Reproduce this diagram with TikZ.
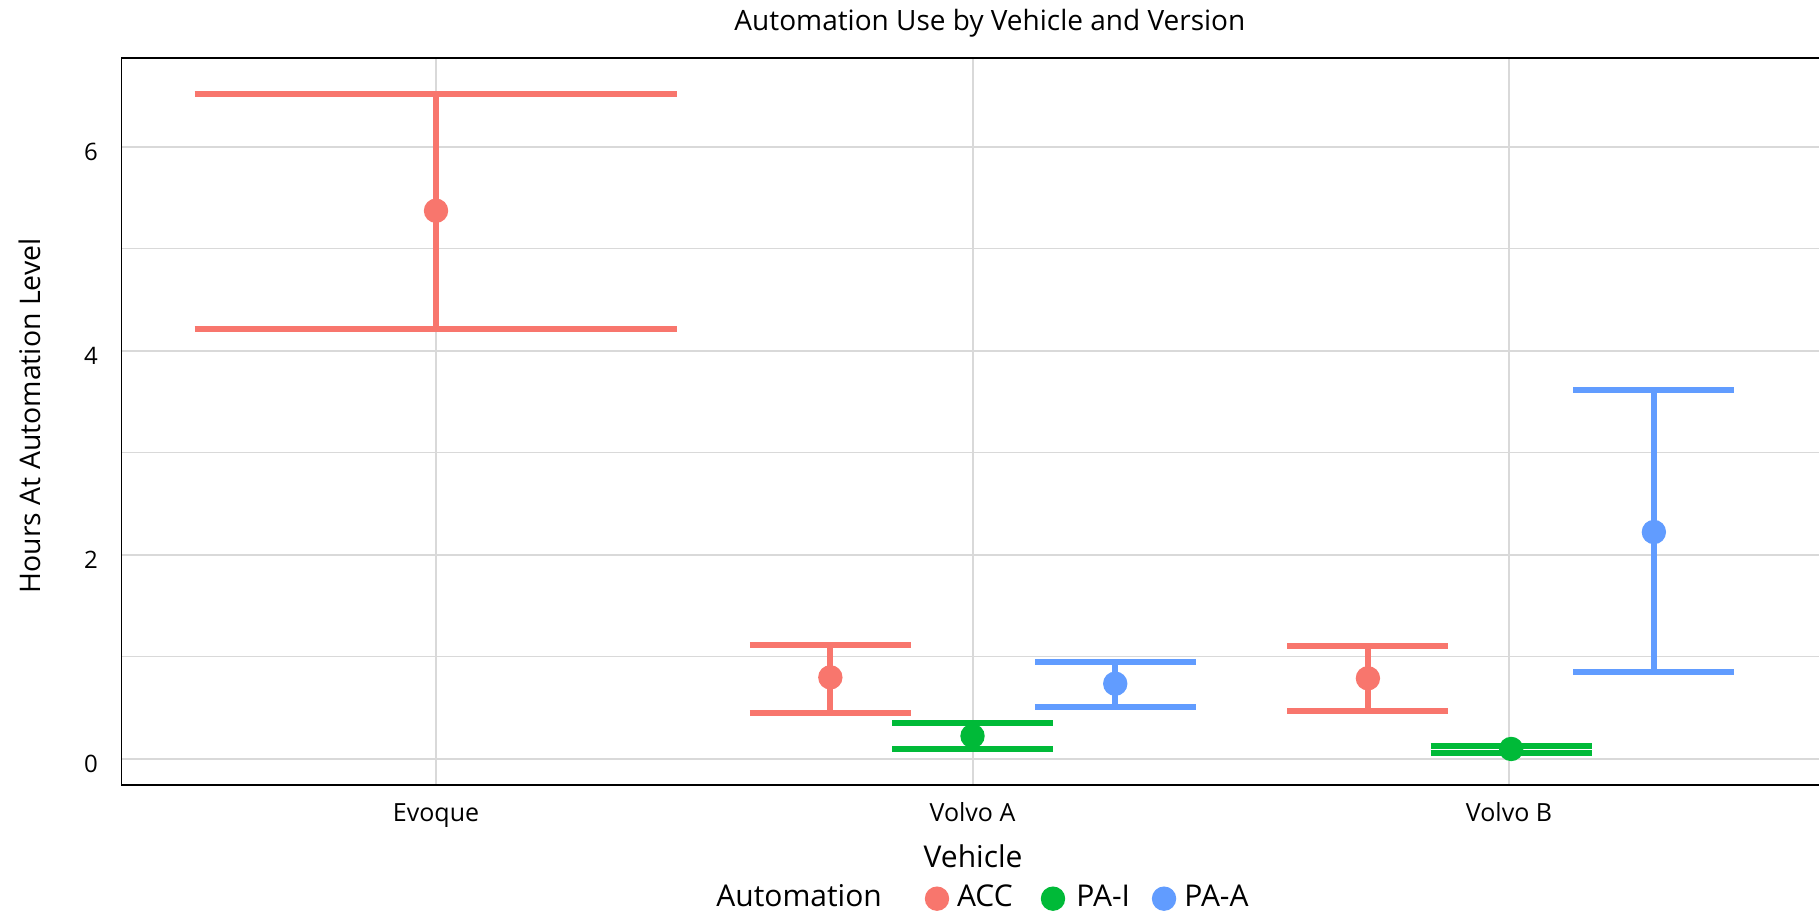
\documentclass[tikz,border=0pt]{standalone}
\usepackage{fontspec}
\setmainfont{Open Sans}
\usepackage{xcolor}
\usepackage{tikz}
\definecolor{accred}{HTML}{F8766D}
\definecolor{paigreen}{HTML}{00BA38}
\definecolor{paablue}{HTML}{619CFF}
\definecolor{gridgray}{HTML}{D9D9D9}

\begin{document}
\begin{tikzpicture}[x=268.25pt, y=51pt,
    bar/.style={line width=3pt},
    dot/.style={circle, inner sep=0pt, minimum size=12.2pt},
    majorgrid/.style={gridgray, line width=1pt},
    minorgrid/.style={gridgray, line width=0.5pt},
    xtick/.style={anchor=base, font=\fontsize{12.5}{15}\selectfont},
    ytick/.style={anchor=east, yshift=-2.5pt, font=\fontsize{12}{14}\selectfont},
    axtitle/.style={font=\fontsize{15}{18}\selectfont}]
    \useasboundingbox (0.1873,-1.5098) rectangle (3.5778,7.441);

    % grid
    \foreach \v in {1,3,5}
        \draw[minorgrid] (0.4138,\v) -- (3.5778,\v);
    \foreach \v in {0,2,4,6}
        \draw[majorgrid] (0.4138,\v) -- (3.5778,\v);
    \foreach \c in {1,2,3}
        \draw[majorgrid] (\c,-0.255) -- (\c,6.873);
    \draw[line width=0.8pt] (3.5778,6.873) -- (0.4138,6.873) -- (0.4138,-0.255) -- (3.5778,-0.255);

    % error bars: x / low / mean / high / half width / colour
    \foreach \x/\lo/\m/\hi/\w/\col in {
            1/4.22/5.375/6.52/0.45/accred,
            1.735/0.451/0.80/1.118/0.15/accred,
            2.0/0.100/0.225/0.356/0.15/paigreen,
            2.266/0.510/0.738/0.954/0.15/paablue,
            2.737/0.474/0.791/1.108/0.15/accred,
            3.004/0.056/0.098/0.130/0.15/paigreen,
            3.270/0.856/2.225/3.618/0.15/paablue} {
        \draw[bar, \col] ({\x-\w},\hi) -- ({\x+\w},\hi);
        \draw[bar, \col] ({\x-\w},\lo) -- ({\x+\w},\lo);
        \draw[bar, \col] (\x,\lo) -- (\x,\hi);
        \fill[\col] (\x,\m) circle[radius=6.1pt];
    }

    % axes text
    \foreach \v in {0,2,4,6}
        \node[ytick] (ylab\v) at (0.383,\v) {\v};
    \node[xtick] (evoque) at (1,-0.613) {Evoque};
    \node[xtick] (volvoa) at (2,-0.613) {Volvo A};
    \node[xtick] (volvob) at (3,-0.613) {Volvo B};
    \node[axtitle, anchor=base] (xtitle) at (2.001,-1.062) {Vehicle};
    \node[anchor=base, rotate=90, font=\fontsize{14.2}{17}\selectfont] (ytitle) at (0.2632,3.363)
        {Hours At Automation Level};
    \node[anchor=base, font=\fontsize{14}{17}\selectfont] (title) at (2.0324,7.137)
        {Automation Use by Vehicle and Version};

    % legend
    \node[axtitle, anchor=base west, inner sep=0pt] (legtitle) at (1.5219,-1.448) {Automation};
    \node[dot, fill=accred] (keyacc) at (1.9338,-1.3696) {};
    \node[axtitle, anchor=base west, inner sep=0pt] (labacc) at (1.9705,-1.448) {ACC};
    \node[dot, fill=paigreen] (keypai) at (2.150,-1.3696) {};
    \node[axtitle, anchor=base west, inner sep=0pt] (labpai) at (2.1929,-1.448) {PA-I};
    \node[dot, fill=paablue] (keypaa) at (2.357,-1.3696) {};
    \node[axtitle, anchor=base west, inner sep=0pt] (labpaa) at (2.3942,-1.448) {PA-A};
\end{tikzpicture}
\end{document}
